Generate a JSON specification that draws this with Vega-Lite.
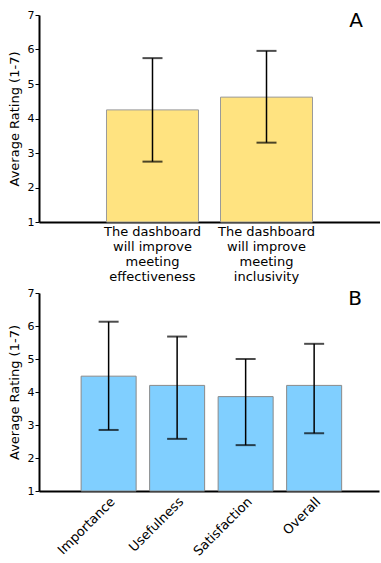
{
  "$schema": "https://vega.github.io/schema/vega-lite/v6.json",
  "padding": {"left": 8, "top": 9, "right": 0, "bottom": 0},
  "background": "white",
  "config": {
    "font": "DejaVu Sans",
    "view": {"stroke": null},
    "axis": {"labelFont": "DejaVu Sans", "titleFont": "DejaVu Sans", "labelColor": "black", "titleColor": "black", "domainColor": "black", "tickColor": "black", "grid": false, "labelOverlap": false},
    "axisY": {"title": "Average Rating (1-7)", "titleFontSize": 13, "titleFontWeight": "normal", "labelFontSize": 11, "tickSize": 4, "labelPadding": 1, "titlePadding": 6, "domainWidth": 2, "tickWidth": 1, "labelOverlap": false},
    "title": {"font": "DejaVu Sans", "fontWeight": "normal", "fontSize": 20, "color": "black"}
  },
  "spacing": 4,
  "vconcat": [
    {
      "width": 341,
      "height": 207,
      "title": {"text": "A", "anchor": "end", "frame": "group", "dx": -17, "dy": 22, "offset": 0},
      "data": {"values": [
        {"item": "The dashboard|will improve|meeting|effectiveness", "mean": 4.25, "lo": 2.75, "hi": 5.75},
        {"item": "The dashboard|will improve|meeting|inclusivity", "mean": 4.62, "lo": 3.30, "hi": 5.96}
      ]},
      "encoding": {
        "x": {"field": "item", "type": "nominal", "sort": null,
          "scale": {"paddingInner": 0.193, "paddingOuter": 0.592},
          "axis": {"title": null, "labelAngle": 0, "labelExpr": "split(datum.label, '|')", "labelFontSize": 13, "labelLineHeight": 15, "ticks": false, "labelPadding": 3, "domainWidth": 2, "labelBaseline": "top", "labelOverlap": false}}
      },
      "layer": [
        {"mark": {"type": "bar", "fill": "#FFE380", "stroke": "#9a9a9a", "strokeWidth": 1},
         "encoding": {
           "y": {"field": "mean", "type": "quantitative", "scale": {"domain": [1, 7], "zero": false, "nice": false},
             "axis": {"title": "Average Rating (1-7)", "values": [1,2,3,4,5,6,7]}},
           "y2": {"datum": 1}
         }},
        {"mark": {"type": "rule", "color": "black", "strokeWidth": 1.5},
         "encoding": {"y": {"field": "lo", "type": "quantitative", "axis": {"title": "Average Rating (1-7)", "values": [1,2,3,4,5,6,7]}}, "y2": {"field": "hi"}}},
        {"mark": {"type": "tick", "color": "black", "thickness": 2, "size": 20},
         "encoding": {"y": {"field": "lo", "type": "quantitative", "axis": {"title": "Average Rating (1-7)", "values": [1,2,3,4,5,6,7]}}}},
        {"mark": {"type": "tick", "color": "black", "thickness": 2, "size": 20},
         "encoding": {"y": {"field": "hi", "type": "quantitative", "axis": {"title": "Average Rating (1-7)", "values": [1,2,3,4,5,6,7]}}}}
      ]
    },
    {
      "width": 340,
      "height": 198,
      "title": {"text": "B", "anchor": "end", "frame": "group", "dx": -17, "dy": 22, "offset": 0},
      "data": {"values": [
        {"item": "Importance", "mean": 4.48, "lo": 2.85, "hi": 6.13},
        {"item": "Usefulness", "mean": 4.20, "lo": 2.58, "hi": 5.68},
        {"item": "Satisfaction", "mean": 3.86, "lo": 2.39, "hi": 5.00},
        {"item": "Overall", "mean": 4.20, "lo": 2.75, "hi": 5.46}
      ]},
      "encoding": {
        "x": {"field": "item", "type": "nominal", "sort": null,
          "scale": {"paddingInner": 0.197, "paddingOuter": 0.58, "align": 0.53},
          "axis": {"title": null, "labelAngle": -45, "labelAlign": "right", "labelBaseline": "top", "labelFontSize": 13, "ticks": false, "labelPadding": 4, "domainWidth": 2, "labelOverlap": false}}
      },
      "layer": [
        {"mark": {"type": "bar", "fill": "#80CFFF", "stroke": "#8a8a8a", "strokeWidth": 1},
         "encoding": {
           "y": {"field": "mean", "type": "quantitative", "scale": {"domain": [1, 7], "zero": false, "nice": false},
             "axis": {"title": "Average Rating (1-7)", "values": [1,2,3,4,5,6,7]}},
           "y2": {"datum": 1}
         }},
        {"mark": {"type": "rule", "color": "black", "strokeWidth": 1.5},
         "encoding": {"y": {"field": "lo", "type": "quantitative", "axis": {"title": "Average Rating (1-7)", "values": [1,2,3,4,5,6,7]}}, "y2": {"field": "hi"}}},
        {"mark": {"type": "tick", "color": "black", "thickness": 2, "size": 20},
         "encoding": {"y": {"field": "lo", "type": "quantitative", "axis": {"title": "Average Rating (1-7)", "values": [1,2,3,4,5,6,7]}}}},
        {"mark": {"type": "tick", "color": "black", "thickness": 2, "size": 20},
         "encoding": {"y": {"field": "hi", "type": "quantitative", "axis": {"title": "Average Rating (1-7)", "values": [1,2,3,4,5,6,7]}}}}
      ]
    }
  ]
}
